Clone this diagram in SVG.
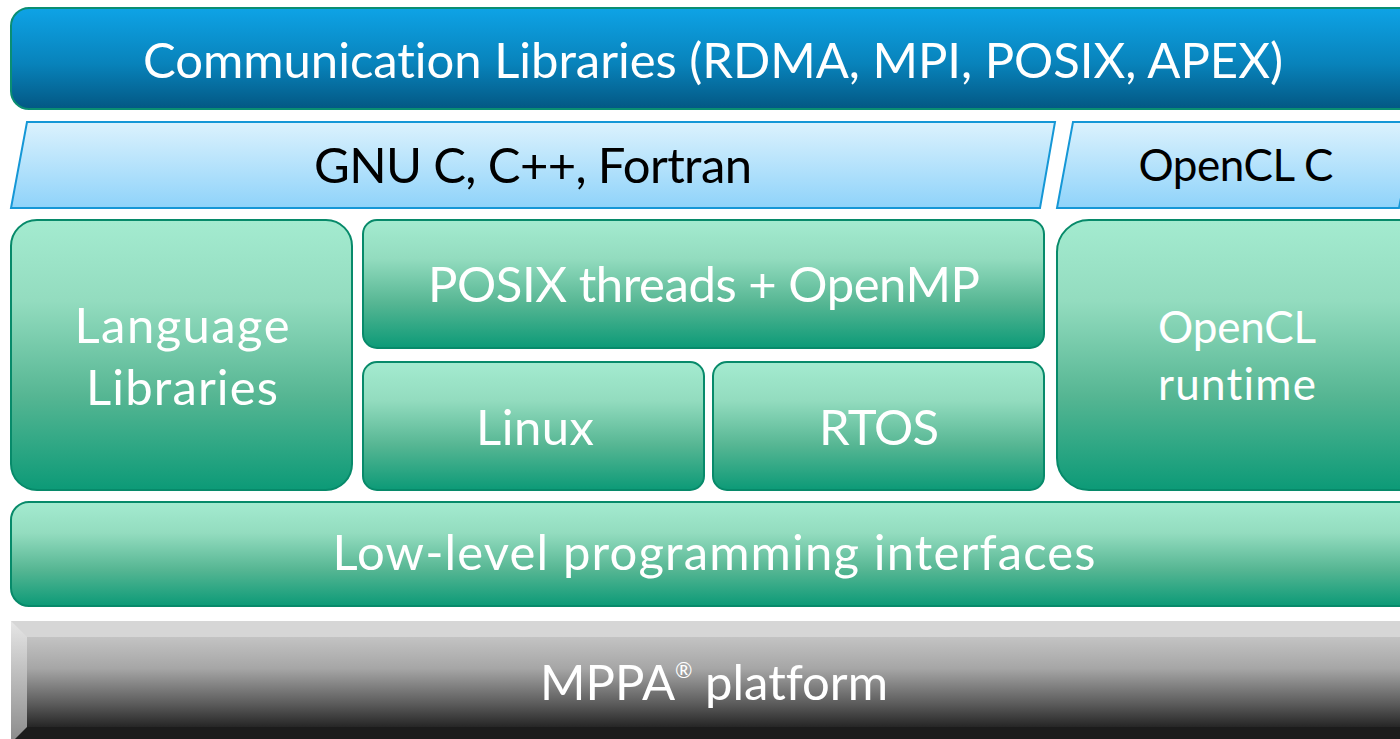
<svg xmlns="http://www.w3.org/2000/svg" width="1400" height="739" viewBox="0 0 1400 739">
<defs>
<linearGradient id="gBlue" x1="0" y1="0" x2="0" y2="1"><stop offset="0" stop-color="#0ea3e6"/><stop offset="0.55" stop-color="#0883bb"/><stop offset="1" stop-color="#035783"/></linearGradient>
<linearGradient id="gLight" x1="0" y1="0" x2="0" y2="1"><stop offset="0" stop-color="#dcf2fd"/><stop offset="1" stop-color="#8fd3fa"/></linearGradient>
<linearGradient id="gGreen" x1="0" y1="0" x2="0" y2="1"><stop offset="0" stop-color="#a4ebd0"/><stop offset="0.3" stop-color="#93dcbf"/><stop offset="0.65" stop-color="#56b693"/><stop offset="1" stop-color="#0c9a77"/></linearGradient>
<linearGradient id="gGray" x1="0" y1="0" x2="0" y2="1"><stop offset="0" stop-color="#c3c3c3"/><stop offset="0.35" stop-color="#a6a6a6"/><stop offset="0.75" stop-color="#5a5a5a"/><stop offset="1" stop-color="#262626"/></linearGradient>
<linearGradient id="gLeftBevel" x1="0" y1="0" x2="0" y2="1"><stop offset="0" stop-color="#e6e6e6"/><stop offset="1" stop-color="#8a8a8a"/></linearGradient>
</defs>
<style>
.green{fill:url(#gGreen);stroke:#078a6a;stroke-width:2}
.para{fill:url(#gLight);stroke:#1597d6;stroke-width:2}
.t{font-family:Lato,"Liberation Sans",sans-serif;text-anchor:middle;font-variant-ligatures:none;font-size:49px}
.s{font-size:44px}
.w{fill:#ffffff}
.b{fill:#000000}
</style>
<g id="comm">
<rect x="11" y="8" width="1420" height="101" rx="18" fill="url(#gBlue)" stroke="#0a8e72" stroke-width="2"/>
<text class="t w" x="713" y="78" textLength="1140" lengthAdjust="spacing">Communication Libraries (RDMA, MPI, POSIX, APEX)</text>
</g>
<g id="gnu">
<polygon class="para" points="27,122 1055,122 1040,208 11,208"/>
<text class="t b" x="533" y="183" textLength="438" lengthAdjust="spacing">GNU C, C++, Fortran</text>
</g>
<g id="opencl-c">
<polygon class="para" points="1073,122 1416,122 1399,208 1057,208"/>
<text class="t s b" x="1236" y="181" textLength="195" lengthAdjust="spacing">OpenCL C</text>
</g>
<g id="langlib">
<rect class="green" x="11" y="220" width="341" height="270" rx="26"/>
<text class="t w" x="182" y="343" textLength="215" lengthAdjust="spacing">Language</text>
<text class="t w" x="182" y="405" textLength="192" lengthAdjust="spacing">Libraries</text>
</g>
<g id="posix">
<rect class="green" x="363" y="220" width="681" height="128" rx="14"/>
<text class="t w" x="704" y="302" textLength="552" lengthAdjust="spacing">POSIX threads + OpenMP</text>
</g>
<g id="linux">
<rect class="green" x="363" y="362" width="341" height="128" rx="14"/>
<text class="t w" x="535" y="445" textLength="118" lengthAdjust="spacing">Linux</text>
</g>
<g id="rtos">
<rect class="green" x="713" y="362" width="331" height="128" rx="14"/>
<text class="t w" x="879" y="445" textLength="120" lengthAdjust="spacing">RTOS</text>
</g>
<g id="opencl-rt">
<rect class="green" x="1057" y="220" width="380" height="270" rx="32"/>
<text class="t s w" x="1237" y="343" textLength="158" lengthAdjust="spacing">OpenCL</text>
<text class="t s w" x="1237" y="400" textLength="158" lengthAdjust="spacing">runtime</text>
</g>
<g id="lowlevel">
<rect class="green" x="11" y="502" width="1420" height="104" rx="18"/>
<text class="t w" x="714" y="570" textLength="763" lengthAdjust="spacing">Low-level programming interfaces</text>
</g>
<g id="mppa">
<rect x="11" y="621" width="1400" height="130" fill="#d6d6d6"/>
<rect x="27" y="637" width="1390" height="90" fill="url(#gGray)"/>
<rect x="11" y="727" width="1400" height="20" fill="#1c1c1c"/>
<polygon points="11,621 27,637 27,727 11,743" fill="url(#gLeftBevel)"/>
<text class="t w" x="714" y="700">MPPA<tspan font-size="21" dy="-22">®</tspan><tspan dy="22"> platform</tspan></text>
</g>
<g id="connectors"/>
</svg>
